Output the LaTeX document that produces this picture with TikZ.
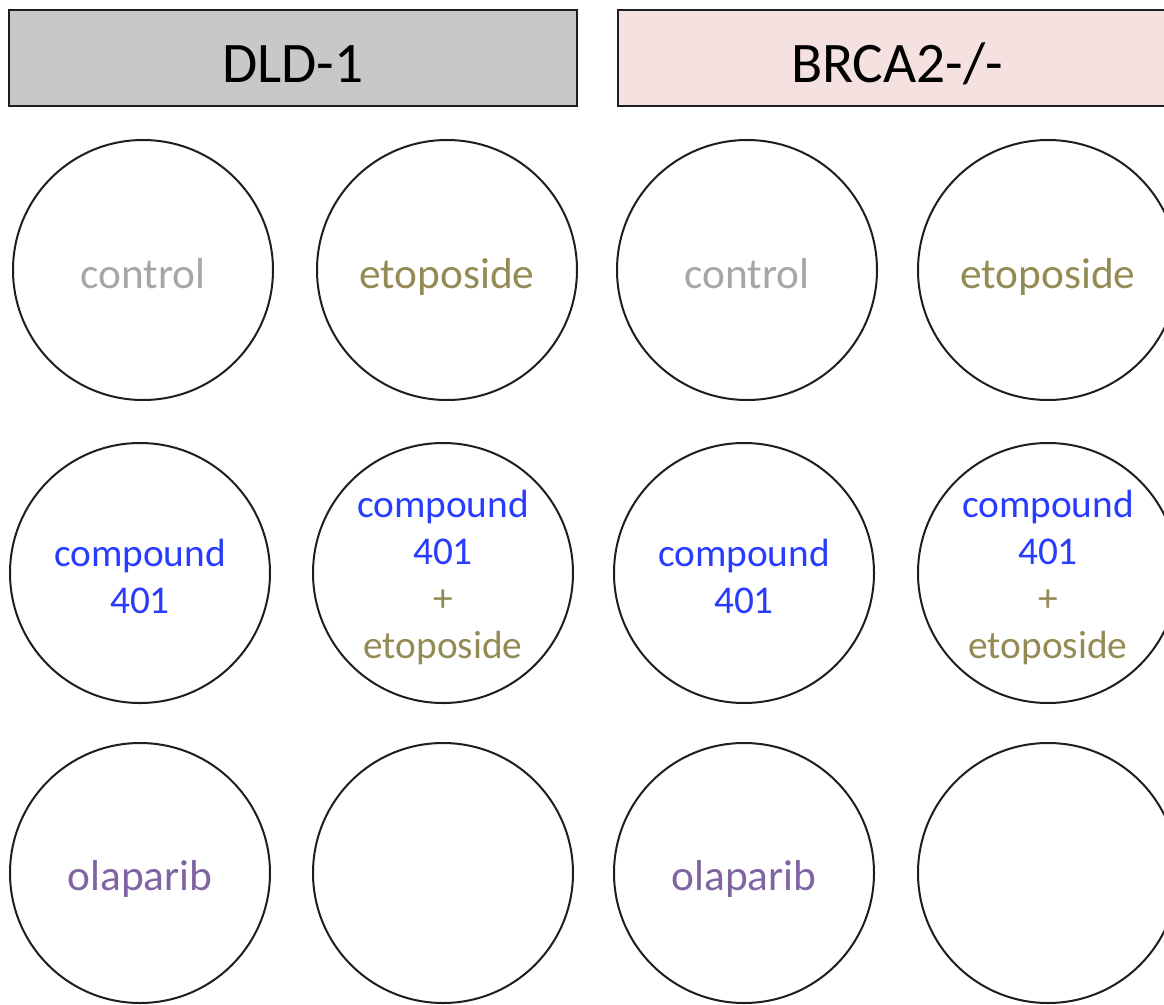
\documentclass[tikz,border=0pt]{standalone}
\usepackage{fontspec}
\setmainfont{Carlito}
\definecolor{ctrlgray}{RGB}{166,166,166}
\definecolor{etoolive}{RGB}{148,138,84}
\definecolor{cmpblue}{RGB}{40,60,255}
\definecolor{olapurple}{RGB}{128,100,162}
\definecolor{hdrgray}{RGB}{200,200,200}
\definecolor{hdrpink}{RGB}{246,225,225}
\definecolor{edge}{RGB}{30,30,30}
\begin{document}
\begin{tikzpicture}[x=0.75pt,y=-0.75pt,
  well/.style={circle,draw=edge,line width=1.5pt,minimum size=195pt,inner sep=0pt},
  bigtxt/.style={anchor=base,inner sep=0pt,font=\fontsize{32.5}{38}\selectfont},
  smalltxt/.style={anchor=base,inner sep=0pt,align=center,font=\fontsize{29.5}{35.25}\selectfont},
  header/.style={rectangle,draw=edge,line width=1.4pt,minimum height=72pt,inner sep=0pt,
    text height=36pt,text depth=0pt,font=\fontsize{43}{50}\selectfont}]
\path[use as bounding box] (0,0) rectangle (1164,1004);
\clip (0,0) rectangle (1164,1004);
\fill[white] (0,0) rectangle (1164,1004);

% cell line headers
\node[header,fill=hdrgray,minimum width=426pt] (hdld) at (293,58) {DLD-1};
\node[header,fill=hdrpink,minimum width=419pt] (hbrca) at (897,58) {BRCA2-/-};

% wells
\node[well] (a1) at (143,270) {};
\node[well] (a2) at (447,270) {};
\node[well] (a3) at (747,270) {};
\node[well] (a4) at (1048,270) {};
\node[well] (b1) at (140,573) {};
\node[well] (b2) at (443,573) {};
\node[well] (b3) at (744,573) {};
\node[well] (b4) at (1048,573) {};
\node[well] (c1) at (140,873) {};
\node[well] (c2) at (443,873) {};
\node[well] (c3) at (744,873) {};
\node[well] (c4) at (1048,873) {};

% treatment labels (base anchor = baseline of the last line)
\node[bigtxt,text=ctrlgray] (a1t) at (143,288) {control};
\node[bigtxt,text=etoolive] (a2t) at (447,288) {etoposide};
\node[bigtxt,text=ctrlgray] (a3t) at (747,288) {control};
\node[bigtxt,text=etoolive] (a4t) at (1048,288) {etoposide};

\node[smalltxt,text=cmpblue] (b1t) at (140,613) {compound\\401};
\node[smalltxt] (b2t) at (443,658) {\textcolor{cmpblue}{compound}\\\textcolor{cmpblue}{401}\\\textcolor{etoolive}{+}\\\textcolor{etoolive}{etoposide}};
\node[smalltxt,text=cmpblue] (b3t) at (744,613) {compound\\401};
\node[smalltxt] (b4t) at (1048,658) {\textcolor{cmpblue}{compound}\\\textcolor{cmpblue}{401}\\\textcolor{etoolive}{+}\\\textcolor{etoolive}{etoposide}};

\node[bigtxt,text=olapurple] (c1t) at (140,890) {olaparib};
\node[bigtxt,text=olapurple] (c3t) at (744,890) {olaparib};
\end{tikzpicture}
\end{document}
